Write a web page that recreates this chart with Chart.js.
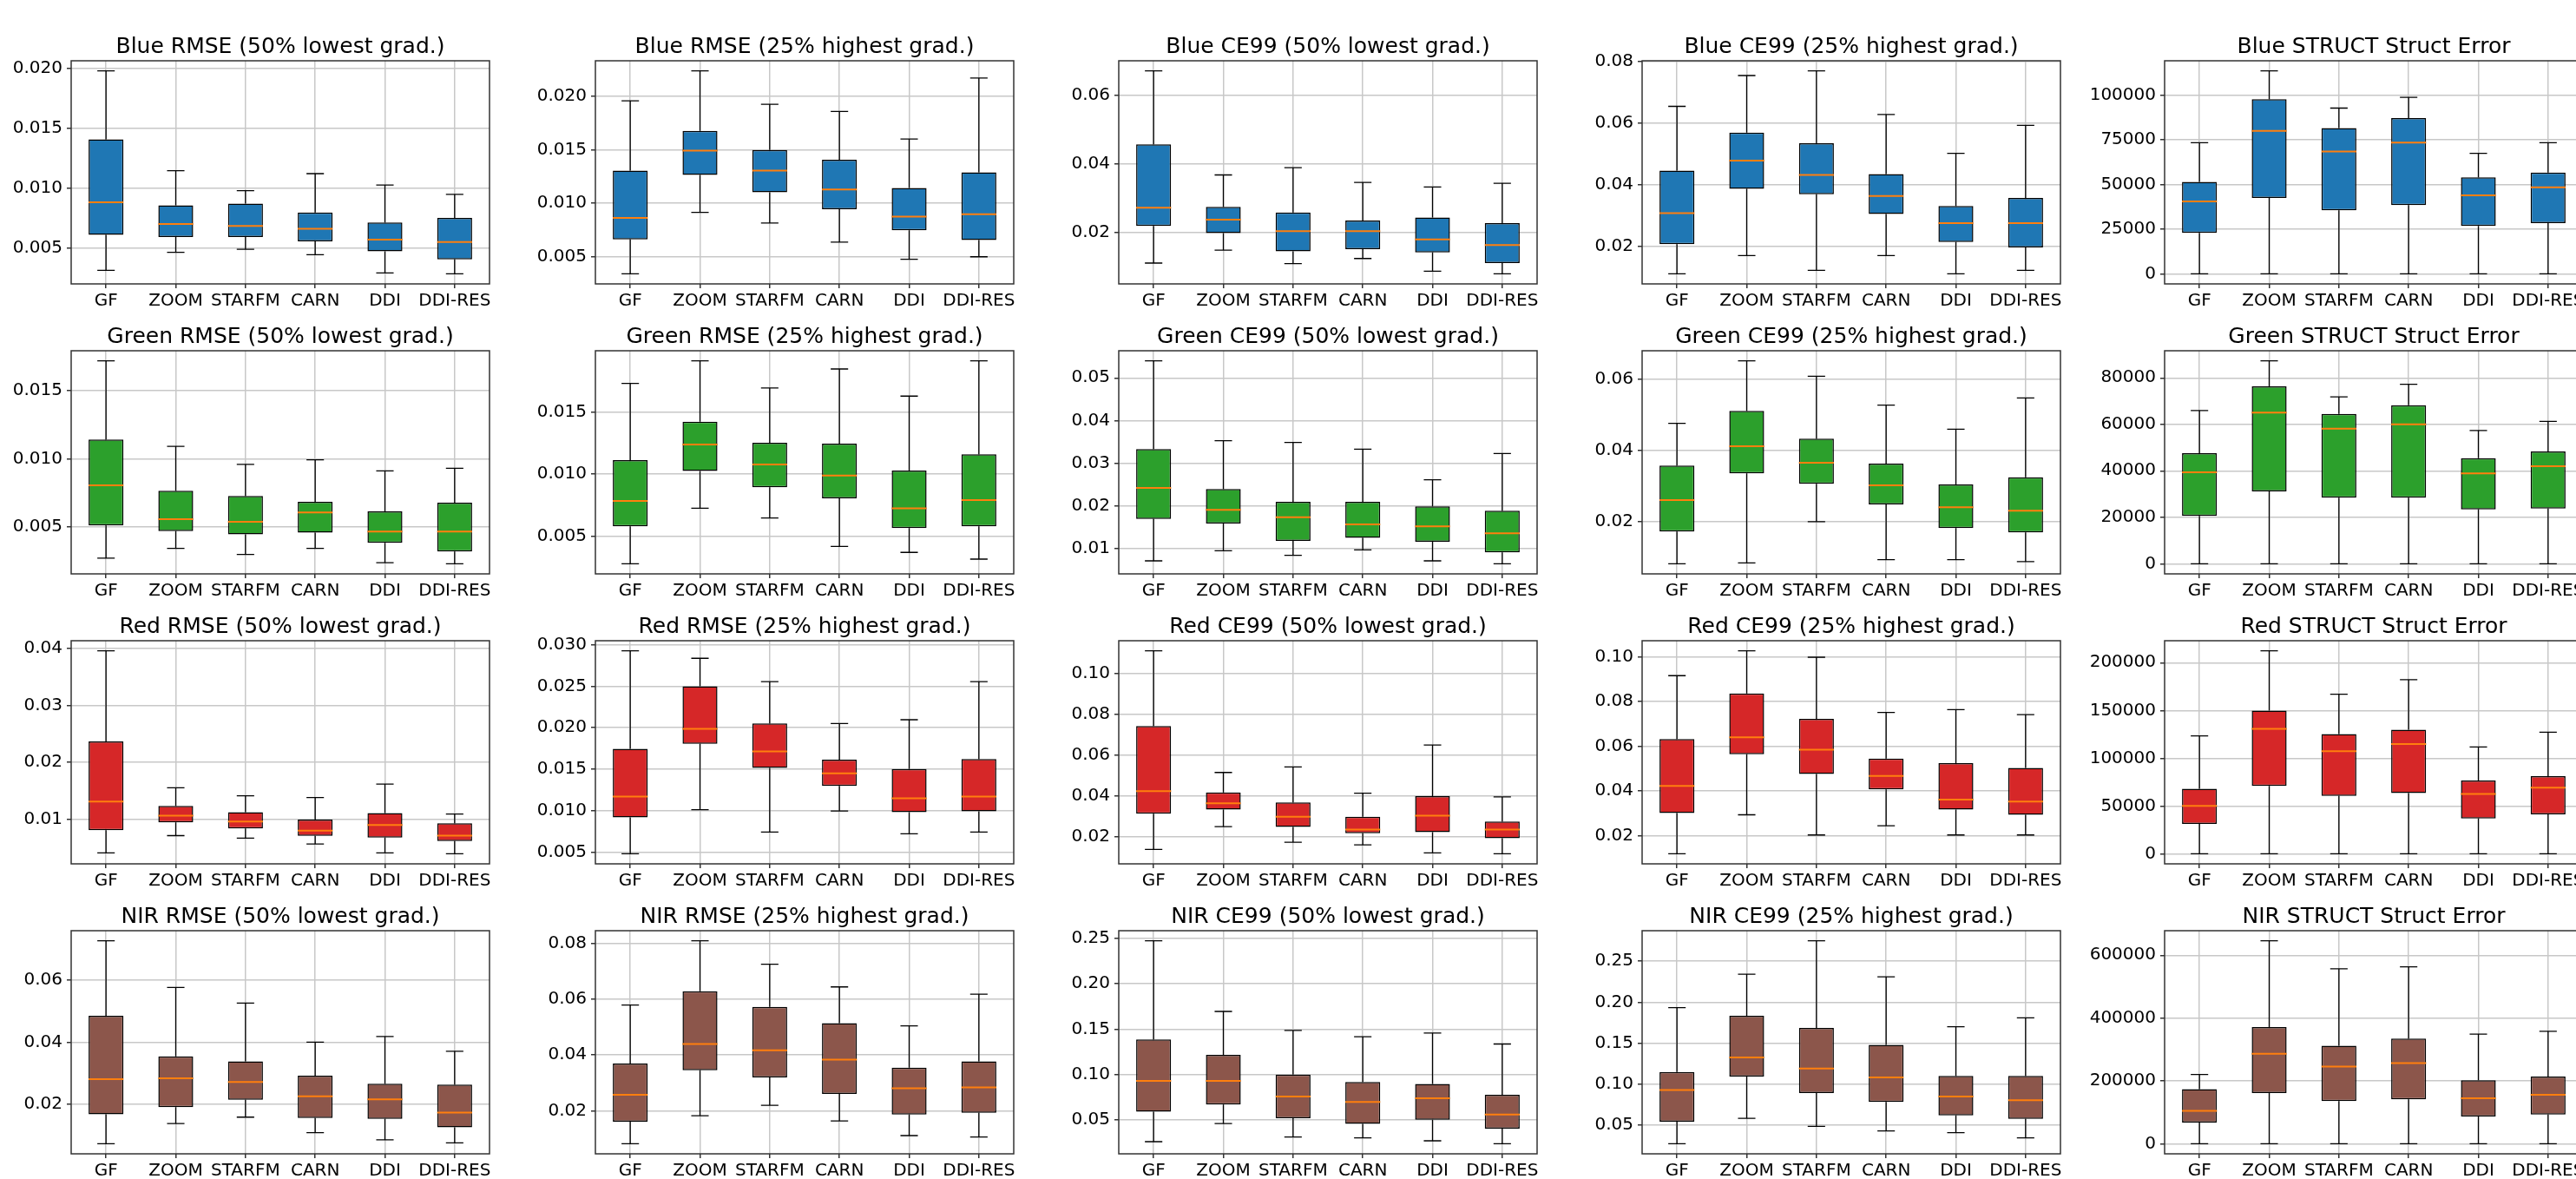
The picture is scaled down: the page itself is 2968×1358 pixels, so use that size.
<!DOCTYPE html>
<html><head><meta charset="utf-8">
<script src="https://cdn.jsdelivr.net/npm/chart.js@4.4.0/dist/chart.umd.min.js"></script>
<style>
html,body{margin:0;padding:0;background:#fff;overflow:hidden;width:2968px;height:1358px;}
canvas{position:absolute;}
</style></head><body>
<script>
const categories = ['GF','ZOOM','STARFM','CARN','DDI','DDI-RES'];
const bands = ['Blue','Green','Red','NIR'];
const bandColors = ['#1f77b4','#2ca02c','#d62728','#8c564b'];
const metricTitles = ['RMSE (50% lowest grad.)','RMSE (25% highest grad.)','CE99 (50% lowest grad.)','CE99 (25% highest grad.)','STRUCT Struct Error'];
const tickSteps = [[0.005,0.005,0.02,0.02,25000],[0.005,0.005,0.01,0.02,20000],[0.01,0.005,0.02,0.02,50000],[0.02,0.02,0.05,0.05,200000]];
const tickDecimals = [[3,3,2,2,0],[3,3,2,2,0],[2,3,2,2,0],[2,2,2,2,0]];

// per method: [whisker low, Q1, median, Q3, whisker high]
const blueRmseLow = [[0.00311,0.00607,0.0088,0.01407,0.0198],[0.00462,0.0059,0.00699,0.00855,0.01144],[0.00487,0.0059,0.00682,0.0087,0.00978],[0.00441,0.00554,0.00658,0.00795,0.0112],[0.00289,0.0047,0.00568,0.00711,0.01024],[0.00282,0.00402,0.00547,0.00749,0.00947]];
const blueRmseHigh = [[0.00341,0.00662,0.00864,0.01307,0.0196],[0.00915,0.01266,0.01493,0.01679,0.0224],[0.00816,0.01104,0.01307,0.015,0.01927],[0.00638,0.00945,0.01129,0.01409,0.0186],[0.00476,0.00748,0.00875,0.01145,0.01603],[0.005,0.00656,0.00899,0.0129,0.02173]];
const blueCe99Low = [[0.011,0.02186,0.02716,0.04569,0.06716],[0.01478,0.01975,0.02371,0.02741,0.03676],[0.01083,0.01445,0.02034,0.02581,0.03887],[0.01234,0.01504,0.02034,0.02346,0.03457],[0.00864,0.01411,0.0179,0.0243,0.03322],[0.00788,0.011,0.0163,0.0227,0.03432]];
const blueCe99High = [[0.01096,0.02062,0.03066,0.04454,0.06546],[0.01687,0.03863,0.04783,0.05693,0.0755],[0.01209,0.03685,0.04314,0.05345,0.077],[0.01687,0.03038,0.03629,0.04342,0.06283],[0.01096,0.02128,0.02747,0.033,0.05017],[0.01209,0.0195,0.02747,0.03563,0.05927]];
const blueStruct = [[0,22940,40549,51534,73505],[0,42488,80129,97899,113731],[0,35541,68497,81744,92891],[0,38449,73505,87237,98869],[0,26817,43942,54119,67528],[0,28433,48465,56704,73505]];

const greenRmseLow = [[0.00271,0.00511,0.00806,0.01141,0.01719],[0.00343,0.0047,0.00557,0.00765,0.01092],[0.00298,0.00445,0.00538,0.00727,0.00959],[0.00343,0.00458,0.00606,0.00685,0.00993],[0.00237,0.00383,0.00466,0.00615,0.00912],[0.0023,0.0032,0.00466,0.00678,0.00931]];
const greenRmseHigh = [[0.00279,0.00579,0.00784,0.01112,0.01728],[0.00725,0.01025,0.01237,0.01421,0.01909],[0.00646,0.00893,0.01077,0.01251,0.01691],[0.00418,0.00805,0.00988,0.01244,0.01844],[0.0037,0.00565,0.00725,0.01028,0.01626],[0.00316,0.00579,0.00791,0.01158,0.01909]];
const greenCe99Low = [[0.00702,0.01688,0.02416,0.03327,0.054],[0.0094,0.0158,0.01899,0.02389,0.03524],[0.00832,0.01172,0.01729,0.0209,0.03484],[0.00961,0.0124,0.01559,0.0209,0.03327],[0.00702,0.01151,0.01512,0.01981,0.02606],[0.00634,0.009,0.01348,0.01879,0.03225]];
const greenCe99High = [[0.00824,0.01723,0.02606,0.0357,0.04753],[0.00848,0.03351,0.04113,0.05101,0.06502],[0.02,0.0306,0.03651,0.04323,0.06073],[0.00937,0.02485,0.03019,0.03627,0.05263],[0.00937,0.0182,0.02404,0.03043,0.04591],[0.00881,0.01699,0.02306,0.03246,0.05465]];
const greenStruct = [[0,20617,39371,47569,65950],[0,31174,65081,76383,87313],[0,28442,58126,64460,71788],[0,28442,59989,68186,77252],[0,23350,38875,45457,57380],[0,23722,41980,48314,61231]];

const redRmseLow = [[0.00414,0.00813,0.01313,0.02369,0.03955],[0.00717,0.0095,0.01066,0.01238,0.01556],[0.00672,0.00844,0.00965,0.01127,0.01414],[0.00571,0.00712,0.00803,0.01,0.01384],[0.00414,0.00682,0.00904,0.01111,0.01621],[0.004,0.00622,0.00717,0.00935,0.01096]];
const redRmseHigh = [[0.00479,0.00917,0.01168,0.01745,0.02927],[0.01011,0.01804,0.01985,0.025,0.02837],[0.0074,0.01515,0.01714,0.02051,0.02555],[0.00994,0.01296,0.01449,0.01613,0.02051],[0.00719,0.0098,0.01147,0.015,0.02096],[0.0074,0.0099,0.01168,0.01623,0.02555]];
const redCe99Low = [[0.01381,0.03133,0.04235,0.07428,0.11116],[0.02497,0.03331,0.03641,0.04178,0.05153],[0.01734,0.02483,0.02977,0.03684,0.05422],[0.01607,0.02172,0.02356,0.02977,0.04136],[0.01211,0.02228,0.03034,0.03995,0.06496],[0.01169,0.01932,0.02356,0.02751,0.03952]];
const redCe99High = [[0.01204,0.03017,0.04226,0.06322,0.09151],[0.0294,0.0564,0.06399,0.08354,0.10257],[0.0204,0.04766,0.05846,0.07222,0.09974],[0.02451,0.04072,0.04676,0.05448,0.07505],[0.0204,0.03171,0.03621,0.05242,0.07634],[0.0204,0.0294,0.03531,0.05036,0.07415]];
const redStruct = [[0,31116,50149,67973,123257],[0,70994,130809,149842,212376],[0,60420,107246,125372,167061],[0,63441,114798,129903,182166],[0,36856,62535,76733,111777],[0,41086,69181,81265,127184]];

const nirRmseLow = [[0.00742,0.01685,0.02812,0.04845,0.07247],[0.01389,0.01916,0.0284,0.03542,0.0575],[0.01593,0.02147,0.0272,0.03385,0.05252],[0.01094,0.01565,0.02258,0.02923,0.04],[0.00863,0.01537,0.02165,0.02664,0.0418],[0.0077,0.01269,0.0174,0.02637,0.03708]];
const nirRmseHigh = [[0.00824,0.01608,0.02577,0.0369,0.05783],[0.01824,0.03453,0.04391,0.06278,0.08082],[0.02195,0.03196,0.04165,0.05721,0.07247],[0.01639,0.02608,0.03835,0.05134,0.06433],[0.01113,0.01866,0.02804,0.03546,0.05041],[0.01061,0.01927,0.02835,0.03773,0.06175]];
const nirCe99Low = [[0.0262,0.05917,0.09308,0.13873,0.24715],[0.04617,0.06709,0.09308,0.12161,0.16948],[0.03127,0.05187,0.07597,0.1,0.14856],[0.03032,0.04585,0.06994,0.09182,0.14159],[0.02715,0.05029,0.07406,0.0896,0.14571],[0.02398,0.04046,0.056,0.07787,0.13366]];
const nirCe99High = [[0.02718,0.05394,0.09266,0.11483,0.19333],[0.05816,0.1092,0.13243,0.18347,0.23416],[0.0483,0.08914,0.11906,0.16869,0.27499],[0.04267,0.07822,0.10814,0.14792,0.23099],[0.04056,0.06168,0.08491,0.1099,0.1701],[0.03422,0.05746,0.08034,0.1099,0.18101]];
const nirStruct = [[0,66970,104584,173389,220176],[0,161462,286229,371547,645850],[0,135775,245863,311916,556862],[0,141280,256872,334851,563284],[0,86236,144949,201828,348612],[0,92657,155958,213754,357786]];

const panels = [
  [blueRmseLow, blueRmseHigh, blueCe99Low, blueCe99High, blueStruct],
  [greenRmseLow, greenRmseHigh, greenCe99Low, greenCe99High, greenStruct],
  [redRmseLow, redRmseHigh, redCe99Low, redCe99High, redStruct],
  [nirRmseLow, nirRmseHigh, nirCe99Low, nirCe99High, nirStruct]
];

// layout (pixels)
const colLeft = [82, 686, 1289, 1892, 2494];
const rowTop = [70, 404, 738, 1072];
const AXW = 482, AXH = 257, YW = 110, TOPH = 37, XH = 45, PADR = 20;

Chart.defaults.font.family = "'DejaVu Sans', sans-serif";
Chart.defaults.color = '#000';

function makeBoxPlugin(stats) {
  return {
    id: 'boxwhisk',
    afterDatasetsDraw(chart) {
      const x = chart.scales.x, y = chart.scales.y, ctx = chart.ctx;
      const step = x.getPixelForValue(1) - x.getPixelForValue(0);
      ctx.save();
      stats.forEach((s, i) => {
        const cx = x.getPixelForValue(i);
        const yl = y.getPixelForValue(s[0]), yq1 = y.getPixelForValue(s[1]);
        const ym = y.getPixelForValue(s[2]), yq3 = y.getPixelForValue(s[3]), yh = y.getPixelForValue(s[4]);
        ctx.strokeStyle = '#000'; ctx.lineWidth = 1.3;
        ctx.beginPath();
        ctx.moveTo(cx, yq1); ctx.lineTo(cx, yl);
        ctx.moveTo(cx, yq3); ctx.lineTo(cx, yh);
        ctx.moveTo(cx - step * 0.125, yl); ctx.lineTo(cx + step * 0.125, yl);
        ctx.moveTo(cx - step * 0.125, yh); ctx.lineTo(cx + step * 0.125, yh);
        ctx.stroke();
        ctx.strokeStyle = '#ff7f0e'; ctx.lineWidth = 2;
        ctx.beginPath(); ctx.moveTo(cx - step * 0.25, ym); ctx.lineTo(cx + step * 0.25, ym); ctx.stroke();
      });
      const a = chart.chartArea;
      ctx.strokeStyle = '#333'; ctx.lineWidth = 1.5;
      ctx.strokeRect(a.left, a.top, a.right - a.left, a.bottom - a.top);
      ctx.restore();
    }
  };
}

for (let r = 0; r < 4; r++) {
  for (let c = 0; c < 5; c++) {
    const stats = panels[r][c];
    const step = tickSteps[r][c], dec = tickDecimals[r][c];
    const lo = Math.min(...stats.map(s => s[0]));
    const hi = Math.max(...stats.map(s => s[4]));
    const pad = 0.05 * (hi - lo);
    const ymin = lo - pad, ymax = hi + pad;
    const cv = document.createElement('canvas');
    const W = YW + AXW + PADR, H = TOPH + AXH + XH;
    cv.width = W; cv.height = H;
    cv.style.left = (colLeft[c] - YW) + 'px';
    cv.style.top = (rowTop[r] - TOPH) + 'px';
    cv.style.width = W + 'px'; cv.style.height = H + 'px';
    document.body.appendChild(cv);
    new Chart(cv, {
      type: 'bar',
      data: {
        labels: categories,
        datasets: [{
          data: stats.map(s => [s[1], s[3]]),
          backgroundColor: bandColors[r],
          borderColor: '#000',
          borderWidth: 1.5,
          borderSkipped: false,
          barPercentage: 0.5,
          categoryPercentage: 1.0
        }]
      },
      options: {
        responsive: false,
        animation: false,
        devicePixelRatio: 1,
        layout: { padding: { top: 6, right: PADR, bottom: 0, left: 0 } },
        plugins: {
          legend: { display: false },
          tooltip: { enabled: false },
          title: {
            display: true,
            fullSize: false,
            text: bands[r] + ' ' + metricTitles[c],
            font: { size: 25, weight: 'normal' },
            color: '#000',
            padding: { top: 0, bottom: 1 }
          }
        },
        scales: {
          x: {
            offset: true,
            grid: { offset: false, color: '#c8c8c8', lineWidth: 1.5, tickLength: 5, tickColor: '#333', tickWidth: 1.5 },
            border: { display: false },
            ticks: { autoSkip: false, maxRotation: 0, minRotation: 0, font: { size: 20 }, color: '#000', padding: 3 },
            afterFit: s => { s.height = XH; }
          },
          y: {
            min: ymin, max: ymax,
            grid: { color: '#c8c8c8', lineWidth: 1.5, tickLength: 5, tickColor: '#333', tickWidth: 1.5 },
            border: { display: false },
            ticks: { font: { size: 20 }, color: '#000', padding: 5, callback: v => Number(v).toFixed(dec) },
            afterBuildTicks: s => {
              const t = [];
              for (let k = Math.ceil(ymin / step - 1e-9); k * step <= ymax + 1e-12; k++) t.push({ value: +(k * step).toFixed(10) });
              s.ticks = t;
            },
            afterFit: s => { s.width = YW; }
          }
        }
      },
      plugins: [makeBoxPlugin(stats)]
    });
  }
}
</script>
</body></html>
